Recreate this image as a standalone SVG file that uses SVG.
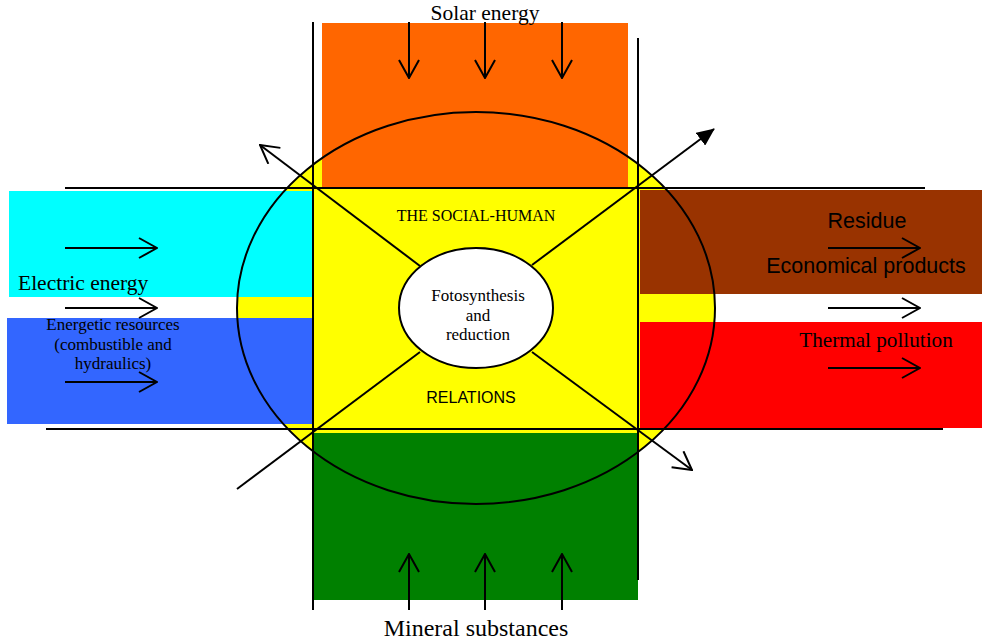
<svg xmlns="http://www.w3.org/2000/svg" width="982" height="643" viewBox="0 0 982 643">
<style>
.ln{stroke:#000;stroke-width:2;fill:none}
.serif{font-family:"Liberation Serif","Times New Roman",serif;fill:#000}
.sans{font-family:"Liberation Sans",Arial,sans-serif;fill:#000}
</style>
<defs>
<marker id="open" viewBox="0 0 20 22" refX="19" refY="11" markerWidth="20" markerHeight="22" markerUnits="userSpaceOnUse" orient="auto">
<path d="M1,1 L19,11 L1,21" fill="none" stroke="#000" stroke-width="2"/>
</marker>
<marker id="solid" viewBox="0 0 18 16" refX="17" refY="8" markerWidth="18" markerHeight="16" markerUnits="userSpaceOnUse" orient="auto">
<path d="M0,0 L18,8 L0,16 z" fill="#000"/>
</marker>
</defs>
<rect width="982" height="643" fill="#fff"/>
<ellipse cx="476" cy="308" rx="239" ry="196" fill="#FFFF00"/>
<g id="solar"><rect x="322" y="23" width="306" height="165" fill="#FF6600"/></g>
<g id="electric"><rect x="9" y="191" width="304" height="106" fill="#00FFFF"/></g>
<g id="resources"><rect x="7" y="318" width="306" height="106" fill="#3366FF"/></g>
<g id="residue"><rect x="640" y="190" width="342" height="104" fill="#993300"/></g>
<g id="thermal"><rect x="640" y="322" width="342" height="106" fill="#FF0000"/></g>
<g id="mineral"><rect x="314" y="433" width="324" height="167" fill="#008000"/></g>
<g id="social"><rect x="313" y="188" width="326" height="245" fill="#FFFF00"/></g>
<g id="connectors">
<line class="ln" x1="313" y1="22" x2="313" y2="610"/>
<line class="ln" x1="638" y1="38" x2="638" y2="580"/>
<line class="ln" x1="65" y1="188" x2="925" y2="188"/>
<line class="ln" x1="46" y1="429" x2="943" y2="429"/>
<line class="ln" x1="420" y1="266" x2="260" y2="145" marker-end="url(#open)"/>
<line class="ln" x1="532" y1="265" x2="714" y2="129" marker-end="url(#solid)"/>
<line class="ln" x1="420" y1="352" x2="237" y2="489"/>
<line class="ln" x1="532" y1="352" x2="692" y2="470" marker-end="url(#open)"/>
<line class="ln" x1="65" y1="248" x2="157" y2="248" marker-end="url(#open)"/>
<line class="ln" x1="65" y1="308" x2="157" y2="308" marker-end="url(#open)"/>
<line class="ln" x1="65" y1="382" x2="157" y2="382" marker-end="url(#open)"/>
<line class="ln" x1="828" y1="248" x2="920" y2="248" marker-end="url(#open)"/>
<line class="ln" x1="828" y1="308" x2="920" y2="308" marker-end="url(#open)"/>
<line class="ln" x1="828" y1="368" x2="920" y2="368" marker-end="url(#open)"/>
<line class="ln" x1="409" y1="22" x2="409" y2="78" marker-end="url(#open)"/>
<line class="ln" x1="485" y1="22" x2="485" y2="78" marker-end="url(#open)"/>
<line class="ln" x1="562" y1="22" x2="562" y2="78" marker-end="url(#open)"/>
<line class="ln" x1="409" y1="610" x2="409" y2="554" marker-end="url(#open)"/>
<line class="ln" x1="485" y1="610" x2="485" y2="554" marker-end="url(#open)"/>
<line class="ln" x1="562" y1="610" x2="562" y2="554" marker-end="url(#open)"/>
<ellipse class="ln" cx="476" cy="308" rx="239" ry="196"/>
</g>
<g id="core">
<ellipse cx="476" cy="308" rx="77" ry="60" fill="#fff" stroke="#000" stroke-width="2"/>
<text class="serif" font-size="17" text-anchor="middle"><tspan x="478" y="301">Fotosynthesis</tspan><tspan x="478" y="321">and</tspan><tspan x="478" y="340">reduction</tspan></text>
</g>
<g id="labels">
<text class="serif" x="485" y="20" font-size="21.5" text-anchor="middle">Solar energy</text>
<text class="serif" x="476" y="636" font-size="24" text-anchor="middle">Mineral substances</text>
<text class="serif" x="18" y="290" font-size="21.5">Electric energy</text>
<text class="serif" font-size="17" text-anchor="middle"><tspan x="113" y="330">Energetic resources</tspan><tspan x="113" y="350">(combustible and</tspan><tspan x="113" y="369">hydraulics)</tspan></text>
<text class="sans" x="867" y="228" font-size="21.5" text-anchor="middle">Residue</text>
<text class="sans" x="866" y="273" font-size="21.5" text-anchor="middle">Economical products</text>
<text class="serif" x="876" y="347" font-size="21.2" text-anchor="middle">Thermal pollution</text>
<text class="serif" x="476" y="221" font-size="16" text-anchor="middle">THE SOCIAL-HUMAN</text>
<text class="sans" x="471" y="403" font-size="16" text-anchor="middle">RELATIONS</text>
</g>
</svg>
